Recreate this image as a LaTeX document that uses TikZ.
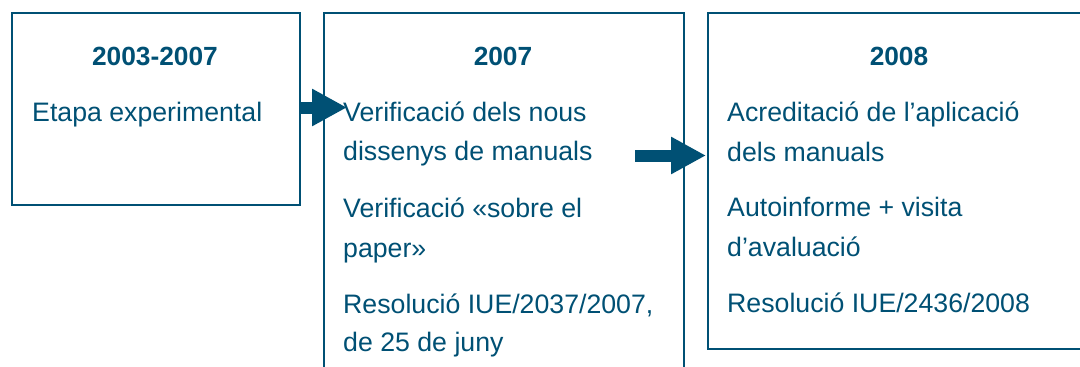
\documentclass[tikz,border=0pt]{standalone}
\usepackage{fontspec}
\setmainfont{Liberation Sans}
\usetikzlibrary{arrows.meta}
\definecolor{navy}{RGB}{0,80,116}
\begin{document}
\begin{tikzpicture}[x=1pt,y=-1pt,
  panel/.style={draw=navy,line width=2pt,rectangle,inner sep=0pt,anchor=north west},
  txt/.style={anchor=base west,inner sep=0pt,text=navy,font=\fontsize{26.7}{30}\selectfont},
  head/.style={anchor=base,inner sep=0pt,text=navy,font=\fontsize{26.3}{30}\selectfont\bfseries},
  flow/.style={draw=navy,line width=12pt,-{Triangle[length=35pt,width=35pt]}}]
\useasboundingbox (0,0) rectangle (1080,367);
\clip (0,0) rectangle (1080,367);
% boxes
\node[panel,minimum width=288pt,minimum height=192pt] (box1) at (11,12) {};
\node[panel,minimum width=360pt,minimum height=400pt] (box2) at (323,12) {};
\node[panel,minimum width=385pt,minimum height=336pt] (box3) at (707,12) {};
% headers
\node[head] (h1) at (155,65) {2003-2007};
\node[head] (h2) at (503,65) {2007};
\node[head] (h3) at (899,65) {2008};
% box 1 text
\node[txt] (t11) at (32,121) {Etapa experimental};
% box 2 text
\node[txt] (t21) at (343,121) {Verificació dels nous};
\node[txt] (t22) at (343,160) {dissenys de manuals};
\node[txt] (t23) at (343,217) {Verificació «sobre el};
\node[txt] (t24) at (343,257) {paper»};
\node[txt] (t25) at (343,313) {Resolució IUE/2037/2007,};
\node[txt] (t26) at (343,351) {de 25 de juny};
% box 3 text
\node[txt] (t31) at (727,121) {Acreditació de l’aplicació};
\node[txt] (t32) at (727,161) {dels manuals};
\node[txt] (t33) at (727,216) {Autoinforme + visita};
\node[txt] (t34) at (727,256) {d’avaluació};
\node[txt] (t35) at (727,312) {Resolució IUE/2436/2008};
% arrows
\coordinate (a1e) at (347,107.5);
\coordinate (a2s) at (635,155.5);
\coordinate (a2e) at (706,155.5);
\draw[flow] (box1.east |- a1e) -- (a1e);
\draw[flow] (a2s) -- (a2e);
\end{tikzpicture}
\end{document}
